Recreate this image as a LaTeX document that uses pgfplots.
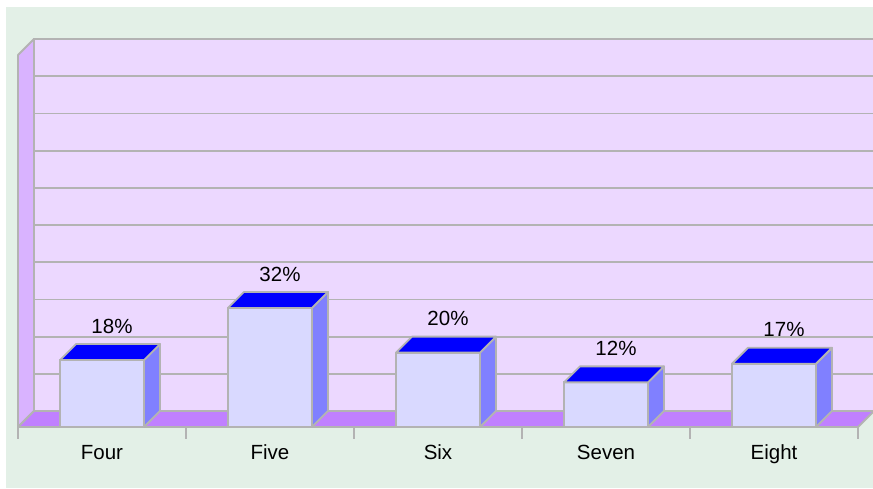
\documentclass[border=0pt]{standalone}
\usepackage{pgfplots}
\pgfplotsset{compat=1.18}
\usepackage{pgfplotstable}
\usepackage{fontspec}
\setmainfont{Liberation Sans}

\definecolor{bggreen}{HTML}{E3F0E7}
\definecolor{wall}{HTML}{ECD8FF}
\definecolor{sidewall}{HTML}{D9B3FF}
\definecolor{floorc}{HTML}{C080FF}
\definecolor{barfront}{HTML}{D9D9FF}
\definecolor{bartop}{HTML}{0000FF}
\definecolor{barside}{HTML}{8080FF}
\definecolor{edge}{HTML}{B3B3B3}

\newcommand\lbl{\fontsize{20.5}{24}\selectfont}

% share of each category, in percent
\pgfplotstableread{
x y
0 18
1 32
2 20
3 12
4 17
}\shares

\begin{document}
\begin{tikzpicture}
\useasboundingbox (0,0) rectangle (873pt,488pt);
\fill[white] (0,0) rectangle (873pt,488pt);
\fill[bggreen] (6pt,0) rectangle (873pt,481pt);
\begin{axis}[
  at={(18pt,61pt)}, anchor=south west,
  scale only axis, width=840pt, height=372pt,
  xmin=-0.5, xmax=4.5, ymin=0, ymax=100,
  clip=false,
  axis line style={draw=none},
  ytick=\empty,
  xtick={0,...,4},
  xticklabels={Four,Five,Six,Seven,Eight},
  major tick length=0pt,
  tick style={draw=none},
  xticklabel style={anchor=base, yshift=-32pt, font=\lbl, text=black},
  /pgf/number format/assume math mode=true,
]
% back wall with its gridlines
\filldraw[fill=wall, draw=edge, line width=1.8pt]
  ([shift={(16pt,16pt)}]axis cs:-0.5,0) rectangle ([shift={(16pt,16pt)}]axis cs:4.5,100);
\pgfplotsinvokeforeach{10,20,30,40,50,60,70,80,90}{
  \draw[edge, line width=1.8pt] ([shift={(16pt,16pt)}]axis cs:-0.5,#1) -- ([shift={(16pt,16pt)}]axis cs:4.5,#1);
}
% left side wall
\filldraw[fill=sidewall, draw=edge, line width=1.8pt, line join=round]
  (axis cs:-0.5,0) -- ([shift={(16pt,16pt)}]axis cs:-0.5,0)
  -- ([shift={(16pt,16pt)}]axis cs:-0.5,100) -- (axis cs:-0.5,100) -- cycle;
% floor
\filldraw[fill=floorc, draw=edge, line width=1.8pt, line join=round]
  (axis cs:-0.5,0) -- (axis cs:4.5,0)
  -- ([shift={(16pt,16pt)}]axis cs:4.5,0) -- ([shift={(16pt,16pt)}]axis cs:-0.5,0) -- cycle;
% category separators below the floor
\pgfplotsinvokeforeach{-0.5,0.5,1.5,2.5,3.5,4.5}{
  \draw[edge, line width=1.6pt] (axis cs:#1,0) -- ([yshift=-12pt]axis cs:#1,0);
}
% front faces of the bars, with value labels
\addplot[ybar, bar width=0.5, fill=barfront, draw=edge, line width=1.8pt,
  point meta=y,
  nodes near coords={\pgfmathprintnumber{\pgfplotspointmeta}\%},
  every node near coord/.append style={anchor=center, xshift=10pt, yshift=34pt,
    font=\lbl, text=black}]
  table[x=x, y=y] {\shares};
% top and side faces of the bars
\addplot[scatter, only marks, mark=*, mark size=0pt, draw=none,
  visualization depends on={\thisrow{y} \as \barv},
  scatter/@pre marker code/.append code={
    \pgfmathsetmacro\hh{\barv*3.72}
    \pgfmathsetmacro\lo{16-\hh}
    \filldraw[fill=barside, draw=edge, line width=1.8pt, line join=round]
      (42pt,0pt) -- (58pt,16pt) -- (58pt,\lo pt) -- (42pt,-\hh pt) -- cycle;
    \filldraw[fill=bartop, draw=edge, line width=1.8pt, line join=round]
      (-42pt,0pt) -- (42pt,0pt) -- (58pt,16pt) -- (-26pt,16pt) -- cycle;
  }]
  table[x=x, y=y] {\shares};
\end{axis}
\end{tikzpicture}
\end{document}
